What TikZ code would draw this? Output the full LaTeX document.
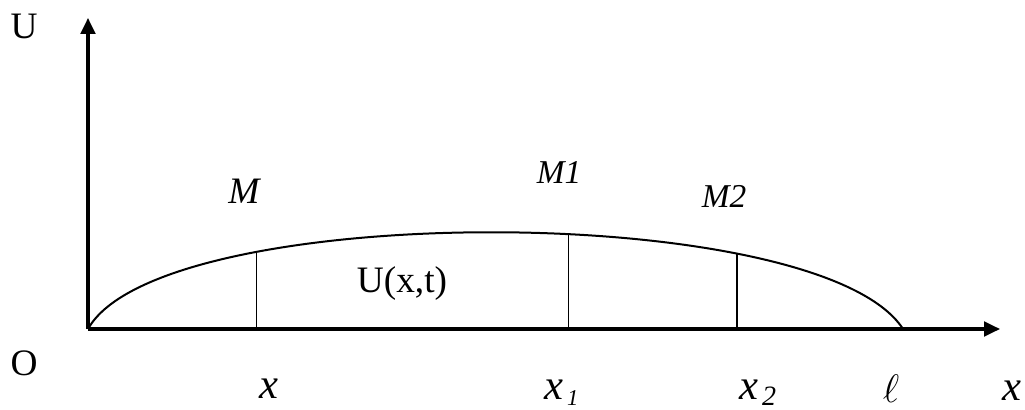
\documentclass[tikz,border=0pt]{standalone}
\usepackage{fontspec}
\setmainfont{Liberation Serif}
\usetikzlibrary{arrows.meta}

\begin{document}
\begin{tikzpicture}[x=0.75pt,y=-0.75pt,
    axis/.style={line width=2.3pt,-{Triangle[length=12pt,width=11pt]}},
    curve/.style={line width=1.5pt},
    chord/.style={line width=1.2pt},
    lbl/.style={inner sep=0pt,anchor=base,font=\fontsize{28}{32}\selectfont},
    xlbl/.style={inner sep=0pt,anchor=base,font=\fontsize{32}{36}\selectfont\itshape},
    mlbl/.style={inner sep=0pt,anchor=base,font=\fontsize{25}{30}\selectfont\itshape}]
  \useasboundingbox (0,0) rectangle (1025,410);
  % axes
  \coordinate (O) at (88,329);
  \coordinate (ytip) at (88,18);
  \coordinate (xtip) at (1000,329);
  \coordinate (l) at (903,329);
  \draw[axis] (O) -- (ytip);
  \draw[axis] (O) -- (xtip);
  % the string and the three points on it
  \draw[curve] (O) .. controls (160,200) and (820,200) .. (l)
    coordinate[pos=0.275] (m)
    coordinate[pos=0.57] (m1)
    coordinate[pos=0.735] (m2);
  \draw[chord] (m) -- (m |- O);
  \draw[chord] (m1) -- (m1 |- O);
  \draw[chord] (m2) -- (m2 |- O);
  % labels
  \node[lbl] (U) at (24,39) {U};
  \node[lbl] (Olbl) at (24,375) {O};
  \node[lbl] (Uxt) at (402,292) {U(x,t)};
  \node[mlbl,font=\fontsize{28}{32}\selectfont\itshape] (M) at (244,203) {M};
  \node[mlbl] (M1) at (559,183) {M1};
  \node[mlbl] (M2) at (724,207) {M2};
  \node[xlbl] (x) at (269,398) {x};
  \node[xlbl,anchor=base west] (x1) at (544,399) {x\kern3pt\raisebox{-5pt}{\fontsize{17}{20}\selectfont 1}};
  \node[xlbl,anchor=base west] (x2) at (739,399) {x\kern3pt\raisebox{-5pt}{\fontsize{21}{24}\selectfont 2}};
  \node[lbl] (ell) at (891,402) {\scalebox{1.2}{$\ell$}};
  \node[xlbl] (xend) at (1012,400) {x};
\end{tikzpicture}
\end{document}
